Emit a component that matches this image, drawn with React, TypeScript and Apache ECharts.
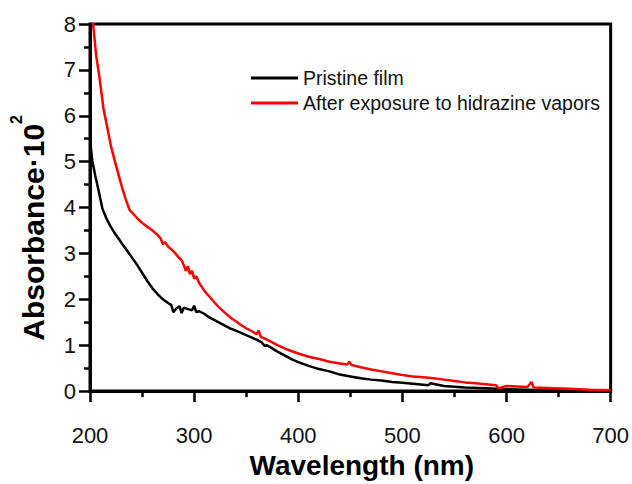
import React, { useEffect, useRef } from "react";
import * as echarts from "echarts";

const xTicks = [200, 300, 400, 500, 600, 700];
const yTicks = [0, 1, 2, 3, 4, 5, 6, 7, 8];

const seriesNames = ["Pristine film", "After exposure to hidrazine vapors"];

const pristineWl = [
  200, 202, 205, 208, 212, 216, 220, 225, 230, 235, 240, 245, 250, 255, 260, 265, 270, 275, 278, 280,
  283, 286, 288, 290, 295, 298, 300, 302, 305, 310, 315, 320, 325, 330, 335, 340, 345, 350, 355, 360,
  365, 368, 370, 375, 380, 385, 390, 395, 400, 410, 420, 430, 440, 450, 460, 470, 480, 490, 500, 520,
  525, 527, 540, 560, 580, 600, 620, 640, 660, 680, 700,
];
const pristineAbs = [
  5.5, 5.05, 4.7, 4.4, 3.97, 3.75, 3.58, 3.4, 3.24, 3.08, 2.92, 2.76, 2.58, 2.4, 2.24, 2.11, 2.0, 1.92, 1.88, 1.72,
  1.8, 1.85, 1.7, 1.82, 1.78, 1.76, 1.86, 1.72, 1.74, 1.68, 1.6, 1.54, 1.48, 1.42, 1.36, 1.32, 1.27, 1.22, 1.17, 1.12,
  1.06, 0.98, 1.0, 0.93, 0.86, 0.8, 0.74, 0.68, 0.63, 0.55, 0.48, 0.43, 0.36, 0.32, 0.28, 0.25, 0.23, 0.2, 0.18, 0.14,
  0.13, 0.17, 0.11, 0.08, 0.06, 0.04, 0.03, 0.02, 0.01, 0.005, 0.0,
];

const exposedWl = [
  200, 203, 206, 209, 213, 217, 220, 224, 227, 230, 234, 238, 242, 246, 250, 255, 260, 265, 268, 270,
  272, 275, 280, 285, 288, 290, 292, 294, 296, 298, 300, 302, 305, 308, 310, 315, 320, 325, 330, 335,
  340, 345, 350, 355, 360, 362, 364, 370, 380, 390, 400, 410, 420, 430, 440, 447, 449, 451, 460, 470,
  480, 490, 500, 510, 520, 530, 540, 550, 560, 570, 580, 590, 592, 600, 610, 620, 624, 626, 640, 660,
  680, 700,
];
const exposedAbs = [
  8.4, 8.0, 7.3, 6.85, 6.15, 5.7, 5.35, 5.0, 4.75, 4.5, 4.2, 3.95, 3.85, 3.75, 3.67, 3.58, 3.5, 3.4, 3.32, 3.2,
  3.25, 3.15, 3.05, 2.92, 2.85, 2.75, 2.62, 2.72, 2.55, 2.62, 2.45, 2.5, 2.35, 2.25, 2.18, 2.05, 1.92, 1.8, 1.7, 1.6,
  1.52, 1.44, 1.37, 1.31, 1.24, 1.32, 1.18, 1.12, 1.0, 0.9, 0.82, 0.75, 0.7, 0.64, 0.6, 0.58, 0.64, 0.57, 0.52, 0.47,
  0.43, 0.39, 0.35, 0.32, 0.3, 0.28, 0.25, 0.22, 0.19, 0.17, 0.15, 0.13, 0.06, 0.11, 0.1, 0.09, 0.2, 0.08, 0.07, 0.05,
  0.03, 0.02,
];

const FONT = "'Liberation Sans', Arial, sans-serif";

export default function App() {
  const ref = useRef<HTMLDivElement>(null);
  useEffect(() => {
    if (!ref.current) return;
    const chart = echarts.init(ref.current, null, { renderer: "svg" });
    const axisCommon = {
      axisLine: { show: true, lineStyle: { color: "#000", width: 3 } },
      axisTick: { show: true, inside: false, length: 11, lineStyle: { color: "#000", width: 2.5 } },
      minorTick: { show: true, splitNumber: 2, length: 6, lineStyle: { color: "#000", width: 2.5 } },
      splitLine: { show: false },
      minorSplitLine: { show: false },
    };
    chart.setOption({
      animation: false,
      backgroundColor: "#fff",
      textStyle: { fontFamily: FONT },
      grid: {
        left: 89,
        right: 20,
        top: 24,
        bottom: 70,
        show: true,
        borderColor: "#000",
        borderWidth: 3,
        containLabel: false,
      },
      legend: {
        orient: "vertical",
        left: 246,
        top: 63,
        itemWidth: 47,
        itemHeight: 3,
        itemGap: 5,
        icon: "rect",
        textStyle: { fontSize: 19.5, color: "#111", fontFamily: FONT },
        data: seriesNames,
      },
      xAxis: {
        type: "value",
        min: xTicks[0],
        max: xTicks[xTicks.length - 1],
        interval: 100,
        name: "Wavelength (nm)",
        nameLocation: "middle",
        nameGap: 52,
        nameTextStyle: { fontSize: 28, fontWeight: "bold", color: "#000", fontFamily: FONT, padding: [0, 0, 0, 23] },
        axisLabel: { fontSize: 22, color: "#111", margin: 33, fontFamily: FONT },
        ...axisCommon,
      },
      yAxis: {
        type: "value",
        min: yTicks[0],
        max: yTicks[yTicks.length - 1],
        interval: 1,
        name: "{a|Absorbance·10}{s|2}{h| }",
        nameLocation: "middle",
        nameGap: 42,
        nameRotate: 90,
        nameTextStyle: {
          color: "#000",
          fontFamily: FONT,
          padding: [0, 40, 0, 0],
          rich: {
            a: { fontSize: 30, fontWeight: "bold", lineHeight: 30, verticalAlign: "bottom", fontFamily: FONT, color: "#000" },
            s: { fontSize: 16, fontWeight: "bold", lineHeight: 20, verticalAlign: "top", fontFamily: FONT, color: "#000" },
            h: { fontSize: 2, lineHeight: 40, fontFamily: FONT },
          },
        },
        axisLabel: { fontSize: 22, color: "#111", margin: 14, fontFamily: FONT },
        ...axisCommon,
      },
      series: [
        {
          name: seriesNames[0],
          type: "line",
          data: pristineWl.map((w, i) => [w, pristineAbs[i]]),
          showSymbol: false,
          symbol: "none",
          lineStyle: { color: "#000", width: 2.5 },
          itemStyle: { color: "#000" },
          clip: true,
        },
        {
          name: seriesNames[1],
          type: "line",
          data: exposedWl.map((w, i) => [w, exposedAbs[i]]),
          showSymbol: false,
          symbol: "none",
          lineStyle: { color: "#ff0000", width: 2.5 },
          itemStyle: { color: "#ff0000" },
          clip: true,
        },
      ],
    });
    return () => chart.dispose();
  }, []);
  return <div ref={ref} style={{ position: "absolute", left: 0, top: 0, width: 632, height: 484 }} />;
}
